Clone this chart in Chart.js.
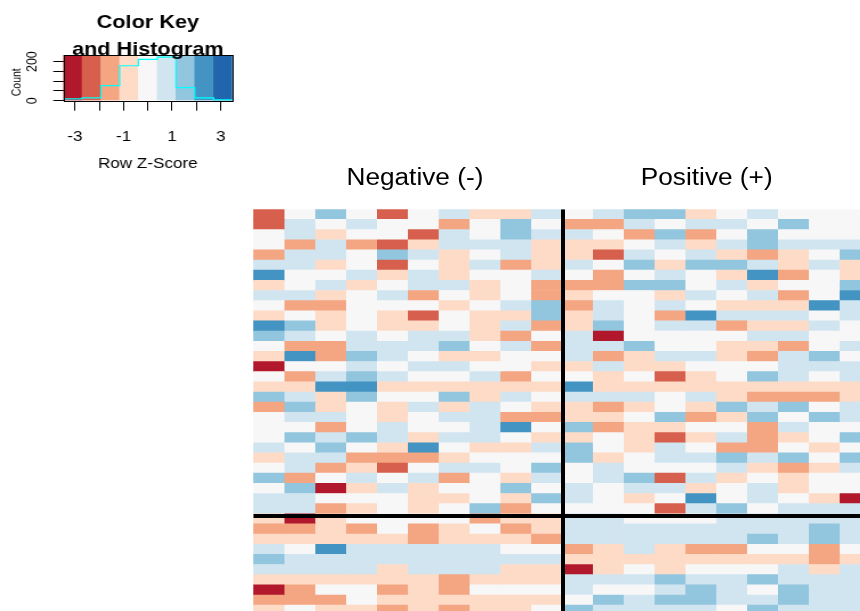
<!DOCTYPE html>
<html>
<head>
<meta charset="utf-8">
<script src="https://cdn.jsdelivr.net/npm/chart.js@4.4.0/dist/chart.umd.min.js"></script>
<style>
  html, body { margin: 0; padding: 0; background: #fff; }
  #wrap { position: relative; width: 860px; height: 611px; overflow: hidden; }
  #heat { position: absolute; left: 0; top: 0; }
  /* the reference is a little wider than tall, so the key is stretched the same way */
  #key { position: absolute; left: 0; top: 0; transform: scaleX(1.14); transform-origin: 0 0; }
</style>
</head>
<body>
<div id="wrap">
  <canvas id="heat" width="860" height="611"></canvas>
  <canvas id="key" width="211" height="180"></canvas>
</div>
<script>
// RdBu, 9 bins: index = z level + 4  (-4 = dark red ... +4 = dark blue)
const rdbu = ['#B2182B', '#D6604D', '#F4A582', '#FDDBC7', '#F7F7F7', '#D1E5F0', '#92C5DE', '#4393C3', '#2166AC'];

const groupTitles = ['Negative (-)', 'Positive (+)'];

// binned row z-scores, one line per row (top to bottom), 10 samples per group
const negRows = [
  [-3, 0, 2, 0, -3, 0, 1, -1, -1, 1],
  [-3, 1, 0, 1, 0, 0, -2, 0, 2, 0],
  [0, 1, -1, 0, 0, -3, 1, 0, 2, 1],
  [0, -2, 1, -2, -3, -1, 1, 1, 1, -1],
  [-2, 1, 1, 0, 2, 1, -1, 0, 1, -1],
  [1, 1, -1, 0, -3, 0, -1, 1, -2, -1],
  [3, 0, 0, 1, -1, 1, -1, 0, 0, 1],
  [-1, 0, 1, -1, 0, 1, 1, -1, 0, -2],
  [1, 1, -1, 0, 1, -2, 0, -1, 0, -2],
  [0, -2, -2, 0, 0, 0, -1, 0, 1, 2],
  [-1, 0, -1, 0, -1, -3, 0, -1, -1, 2],
  [3, 2, -1, 0, -1, -1, 0, -1, 1, -2],
  [2, 1, 0, 1, 0, 1, 1, -1, -2, 0],
  [0, -2, -2, 1, 1, 1, 2, 0, 1, -2],
  [-1, 3, -2, 2, 1, 0, -1, -1, 0, 0],
  [-4, 0, 0, 1, 0, 1, 1, 0, 0, -1],
  [0, -2, 1, 2, 1, 0, 0, 1, -2, 0],
  [-1, -1, 3, 3, -1, -1, -1, -1, -1, -1],
  [2, 1, -1, 2, 0, 0, 2, -1, 1, 0],
  [-2, 2, -1, 0, -1, 1, -1, 1, 0, -1],
  [0, 1, 1, 0, -1, 0, 1, 1, -2, -2],
  [0, 0, -2, 0, 1, 0, 0, 1, 3, 0],
  [0, 2, 1, 2, 1, -1, 1, 1, 0, -1],
  [1, 0, 2, 0, -1, 3, 0, -1, -1, 1],
  [-1, 1, 1, -2, -2, -2, -1, 0, 0, 0],
  [0, 1, -2, -1, -3, 0, 1, 1, 0, 2],
  [2, -2, 0, 1, 0, 1, -2, 0, -1, 1],
  [0, 2, -4, -1, 1, -1, 0, 0, 2, 0],
  [1, 1, 0, 0, 0, -1, -1, 0, -1, 2],
  [1, 1, -2, -1, 0, -1, 0, 2, -2, 0],
  [-1, -4, -1, 0, 0, 0, 0, -2, -1, -1],
  [-2, -2, -1, -2, 0, -2, -1, 0, -2, -1],
  [-1, -1, -1, -1, -1, -2, -1, -1, -1, -2],
  [1, 0, 3, 1, 1, 1, 1, 1, 0, 0],
  [2, 1, 1, 1, 1, 1, 1, 1, 1, 1],
  [1, 1, 1, 1, -1, 1, 1, 1, -1, -1],
  [-1, -1, -1, -1, -1, -1, -2, -1, -1, -1],
  [-4, -2, 0, 0, -2, -1, -2, 0, 0, 0],
  [-2, -2, -2, 0, -1, -1, -1, -1, -1, -1],
  [-1, 0, -1, -1, -2, -1, -2, -1, -1, 0]
];

const posRows = [
  [0, 1, 2, 2, -1, 0, 1, 0, 0, 0],
  [-2, -2, 1, 0, 1, 1, 0, 2, 0, 0],
  [1, 0, -2, 2, -2, 0, 2, 0, 0, 0],
  [-1, -1, 0, 1, -1, 1, 2, 1, 1, 1],
  [-1, -3, 1, 0, 1, -1, -2, -1, 0, 2],
  [1, 0, 2, -1, 2, 2, 1, -1, 1, -1],
  [0, -2, 0, 1, 0, -1, 3, -2, 0, -1],
  [-2, -2, 2, 2, 0, 1, -1, 0, 0, 2],
  [-1, 0, 0, -1, 1, 0, 1, -2, 0, 3],
  [-2, 1, 0, 1, 0, -1, -1, -1, 3, 1],
  [-1, 1, 0, -2, 3, 1, 1, 1, 0, 1],
  [-1, 2, 0, 1, 1, -2, -1, -1, 1, 0],
  [1, -4, 0, 0, 0, 0, 1, 1, 0, 0],
  [1, 1, 2, 0, 0, -1, -1, -2, 0, 1],
  [1, -2, -1, 1, 1, -1, -2, 1, 2, 0],
  [-1, 1, -1, -1, 0, 0, 0, 1, 1, 1],
  [0, -1, 0, -3, -1, 0, 2, 1, 0, 1],
  [3, -1, -1, -1, -1, -1, -1, -1, -1, -1],
  [1, 1, 1, 0, 1, -1, -2, -2, -2, -1],
  [-1, -2, -1, 0, -1, 2, 1, 2, 0, 1],
  [-1, -1, 0, 2, -2, -1, 2, 0, 2, 1],
  [2, -2, -1, -1, 0, 0, -2, 1, 0, 0],
  [-1, 0, -1, -3, -1, 1, -2, -1, 0, 2],
  [2, 0, -1, 1, 0, -2, -2, 0, -1, 0],
  [2, -1, 0, 1, 1, 2, 1, 2, 0, 2],
  [0, 1, 0, 0, 0, 1, -1, -2, -1, 1],
  [0, 1, 2, -3, 1, -1, 0, -1, 0, 0],
  [1, 0, 1, 1, -1, 0, 1, -1, 0, 0],
  [1, 0, -1, 0, 3, 0, 1, 0, -1, -4],
  [0, 0, 0, -3, 1, 2, 0, 1, 1, 1],
  [1, 1, 0, 0, 0, 1, 1, 1, 1, 1],
  [1, 1, 1, 1, 1, 1, 1, 1, 2, 1],
  [1, 1, 1, 1, 1, 1, 2, 1, 2, 1],
  [-2, -1, 1, -1, -2, -2, 0, 0, -2, 0],
  [-1, -1, -1, -1, -1, -1, -1, -1, -2, -1],
  [-4, -1, 0, -1, 0, 0, 0, 1, -1, 1],
  [1, 1, 1, 2, 1, 1, 2, 1, 1, 1],
  [1, 0, 0, 1, 2, 1, 0, 2, 1, 1],
  [0, 2, 1, 2, 2, 1, 1, 2, 1, 1],
  [2, 1, 1, 1, 1, 0, 2, 1, 1, 1]
];

// colour key: bin edges of the z-score and histogram counts per bin
const keyBreaks = [-3.48, -2.71, -1.93, -1.16, -0.39, 0.39, 1.16, 1.93, 2.71, 3.48];
const histCounts = [9, 14, 77, 179, 212, 223, 67, 14, 4];
const keyXTicks = [-3, -2, -1, 0, 1, 2, 3];
const keyXLabels = [-3, -1, 1, 3];
const keyYTicks = [0, 50, 100, 150, 200];
const keyYLabels = [0, 200];

const FONT = '"Liberation Sans", Arial, Helvetica, sans-serif';
const STRETCH = 1.14;

/* ---------------- heatmap ---------------- */
const nCols = 20;
const viewCols = 19.67, viewRows = 39.58;   // the picture is cut at the right and bottom
const colSep = 10.04, rowSep = 30.22;        // black separators
const titleAt = [5.24, 14.7];

function cellSets() {
  const sets = [];
  for (let j = 0; j < nCols; j++) {
    const rows = j < 10 ? negRows : posRows;
    const c = j % 10;
    sets.push({
      type: 'bar',
      data: rows.map((row, r) => ({ x: j + 0.5, y: [r, r + 1] })),
      backgroundColor: rows.map(row => rdbu[row[c] + 4]),
      borderWidth: 0,
      grouped: false,
      barPercentage: 1,
      categoryPercentage: 1,
      order: 2
    });
  }
  return sets;
}

const sepLine = pts => ({
  type: 'line', data: pts, borderColor: '#000', borderWidth: 4,
  pointRadius: 0, fill: false, tension: 0, order: 0
});

const groupTitlePlugin = {
  id: 'groupTitles',
  afterDraw(chart) {
    const ctx = chart.ctx, x = chart.scales.x;
    ctx.save();
    ctx.font = '23px ' + FONT;
    ctx.fillStyle = '#000';
    ctx.textAlign = 'center';
    ctx.textBaseline = 'alphabetic';
    groupTitles.forEach((t, i) => {
      ctx.save();
      ctx.translate(x.getPixelForValue(titleAt[i]), 185);
      ctx.scale(STRETCH, 1);
      ctx.fillText(t, 0, 0);
      ctx.restore();
    });
    ctx.restore();
  }
};

new Chart(document.getElementById('heat'), {
  type: 'bar',
  data: {
    datasets: [
      sepLine([{ x: colSep, y: 0 }, { x: colSep, y: viewRows }]),
      sepLine([{ x: 0, y: rowSep }, { x: viewCols, y: rowSep }]),
      ...cellSets()
    ]
  },
  options: {
    responsive: false,
    animation: false,
    layout: { padding: { left: 253.3, top: 209.3, right: 0, bottom: 0 } },
    plugins: { legend: { display: false }, tooltip: { enabled: false } },
    scales: {
      x: { type: 'linear', offset: false, min: 0, max: viewCols, display: false, ticks: { stepSize: 1 } },
      y: { type: 'linear', offset: false, min: 0, max: viewRows, reverse: true, display: false }
    }
  },
  plugins: [groupTitlePlugin]
});

/* ---------------- colour key + histogram ---------------- */
const keyBlocks = histCounts.map((_, i) => ({ x: (keyBreaks[i] + keyBreaks[i + 1]) / 2, y: [0, 240] }));
const histLine = keyBreaks.map((b, i) => ({ x: b, y: histCounts[Math.min(i, histCounts.length - 1)] }));

const keyFramePlugin = {
  id: 'keyFrame',
  afterDraw(chart) {
    const { ctx, chartArea: a } = chart;
    ctx.save();
    ctx.strokeStyle = '#000';
    ctx.lineWidth = 1;
    ctx.strokeRect(Math.round(a.left) + 0.5, Math.round(a.top) + 0.5, Math.round(a.right - a.left), Math.round(a.bottom - a.top));
    ctx.fillStyle = '#000';
    ctx.font = 'bold 19px ' + FONT;
    ctx.textAlign = 'center';
    ctx.textBaseline = 'alphabetic';
    const cx = (a.left + a.right) / 2;
    ctx.fillText('Color Key', cx, 28.3);
    ctx.fillText('and Histogram', cx, 55.3);
    ctx.restore();
  }
};

new Chart(document.getElementById('key'), {
  type: 'bar',
  data: {
    datasets: [
      { type: 'line', data: histLine, borderColor: '#00FFFF', borderWidth: 1.2, stepped: true,
        pointRadius: 0, fill: false, order: 0 },
      { type: 'bar', data: keyBlocks, backgroundColor: rdbu, borderWidth: 0, grouped: false,
        barPercentage: 1, categoryPercentage: 1, order: 1 }
    ]
  },
  options: {
    responsive: false,
    animation: false,
    layout: { padding: { left: 0, top: 55, right: 7.2, bottom: 0 } },
    plugins: { legend: { display: false }, tooltip: { enabled: false } },
    scales: {
      x: {
        type: 'linear', offset: false, min: keyBreaks[0], max: keyBreaks[keyBreaks.length - 1],
        afterBuildTicks: s => { s.ticks = keyXTicks.map(v => ({ value: v })); },
        afterFit: s => { s.height = 180 - 100.7; s.paddingLeft = 0; s.paddingRight = 0; },
        ticks: {
          autoSkip: false, maxRotation: 0, padding: 17, color: '#000',
          font: { family: FONT, size: 15 },
          callback: v => keyXLabels.includes(v) ? String(v) : ''
        },
        grid: { offset: false, drawOnChartArea: false, color: '#000', lineWidth: 1, tickLength: 10 },
        border: { display: false },
        title: { display: true, text: 'Row Z-Score', color: '#000', font: { family: FONT, size: 15 },
                 padding: { top: 0, bottom: 7 } }
      },
      y: {
        type: 'linear', offset: false, min: 0, max: 234,
        afterBuildTicks: s => { s.ticks = keyYTicks.map(v => ({ value: v })); },
        afterFit: s => { s.width = 55.5; s.paddingTop = 0; s.paddingBottom = 0; },
        ticks: {
          autoSkip: false, minRotation: 90, maxRotation: 90, crossAlign: 'center', padding: 7.8, color: '#000',
          font: { family: FONT, size: 12.5 },
          callback: v => keyYLabels.includes(v) ? String(v) : ''
        },
        grid: { drawOnChartArea: false, color: '#000', lineWidth: 1, tickLength: 8.8 },
        border: { display: false },
        // trailing spaces push the rotated word a little lower, as in the picture
        title: { display: true, text: 'Count   ', color: '#000', font: { family: FONT, size: 10.5 },
                 padding: { top: 8.6, bottom: 0 } }
      }
    }
  },
  plugins: [keyFramePlugin]
});
</script>
</body>
</html>
